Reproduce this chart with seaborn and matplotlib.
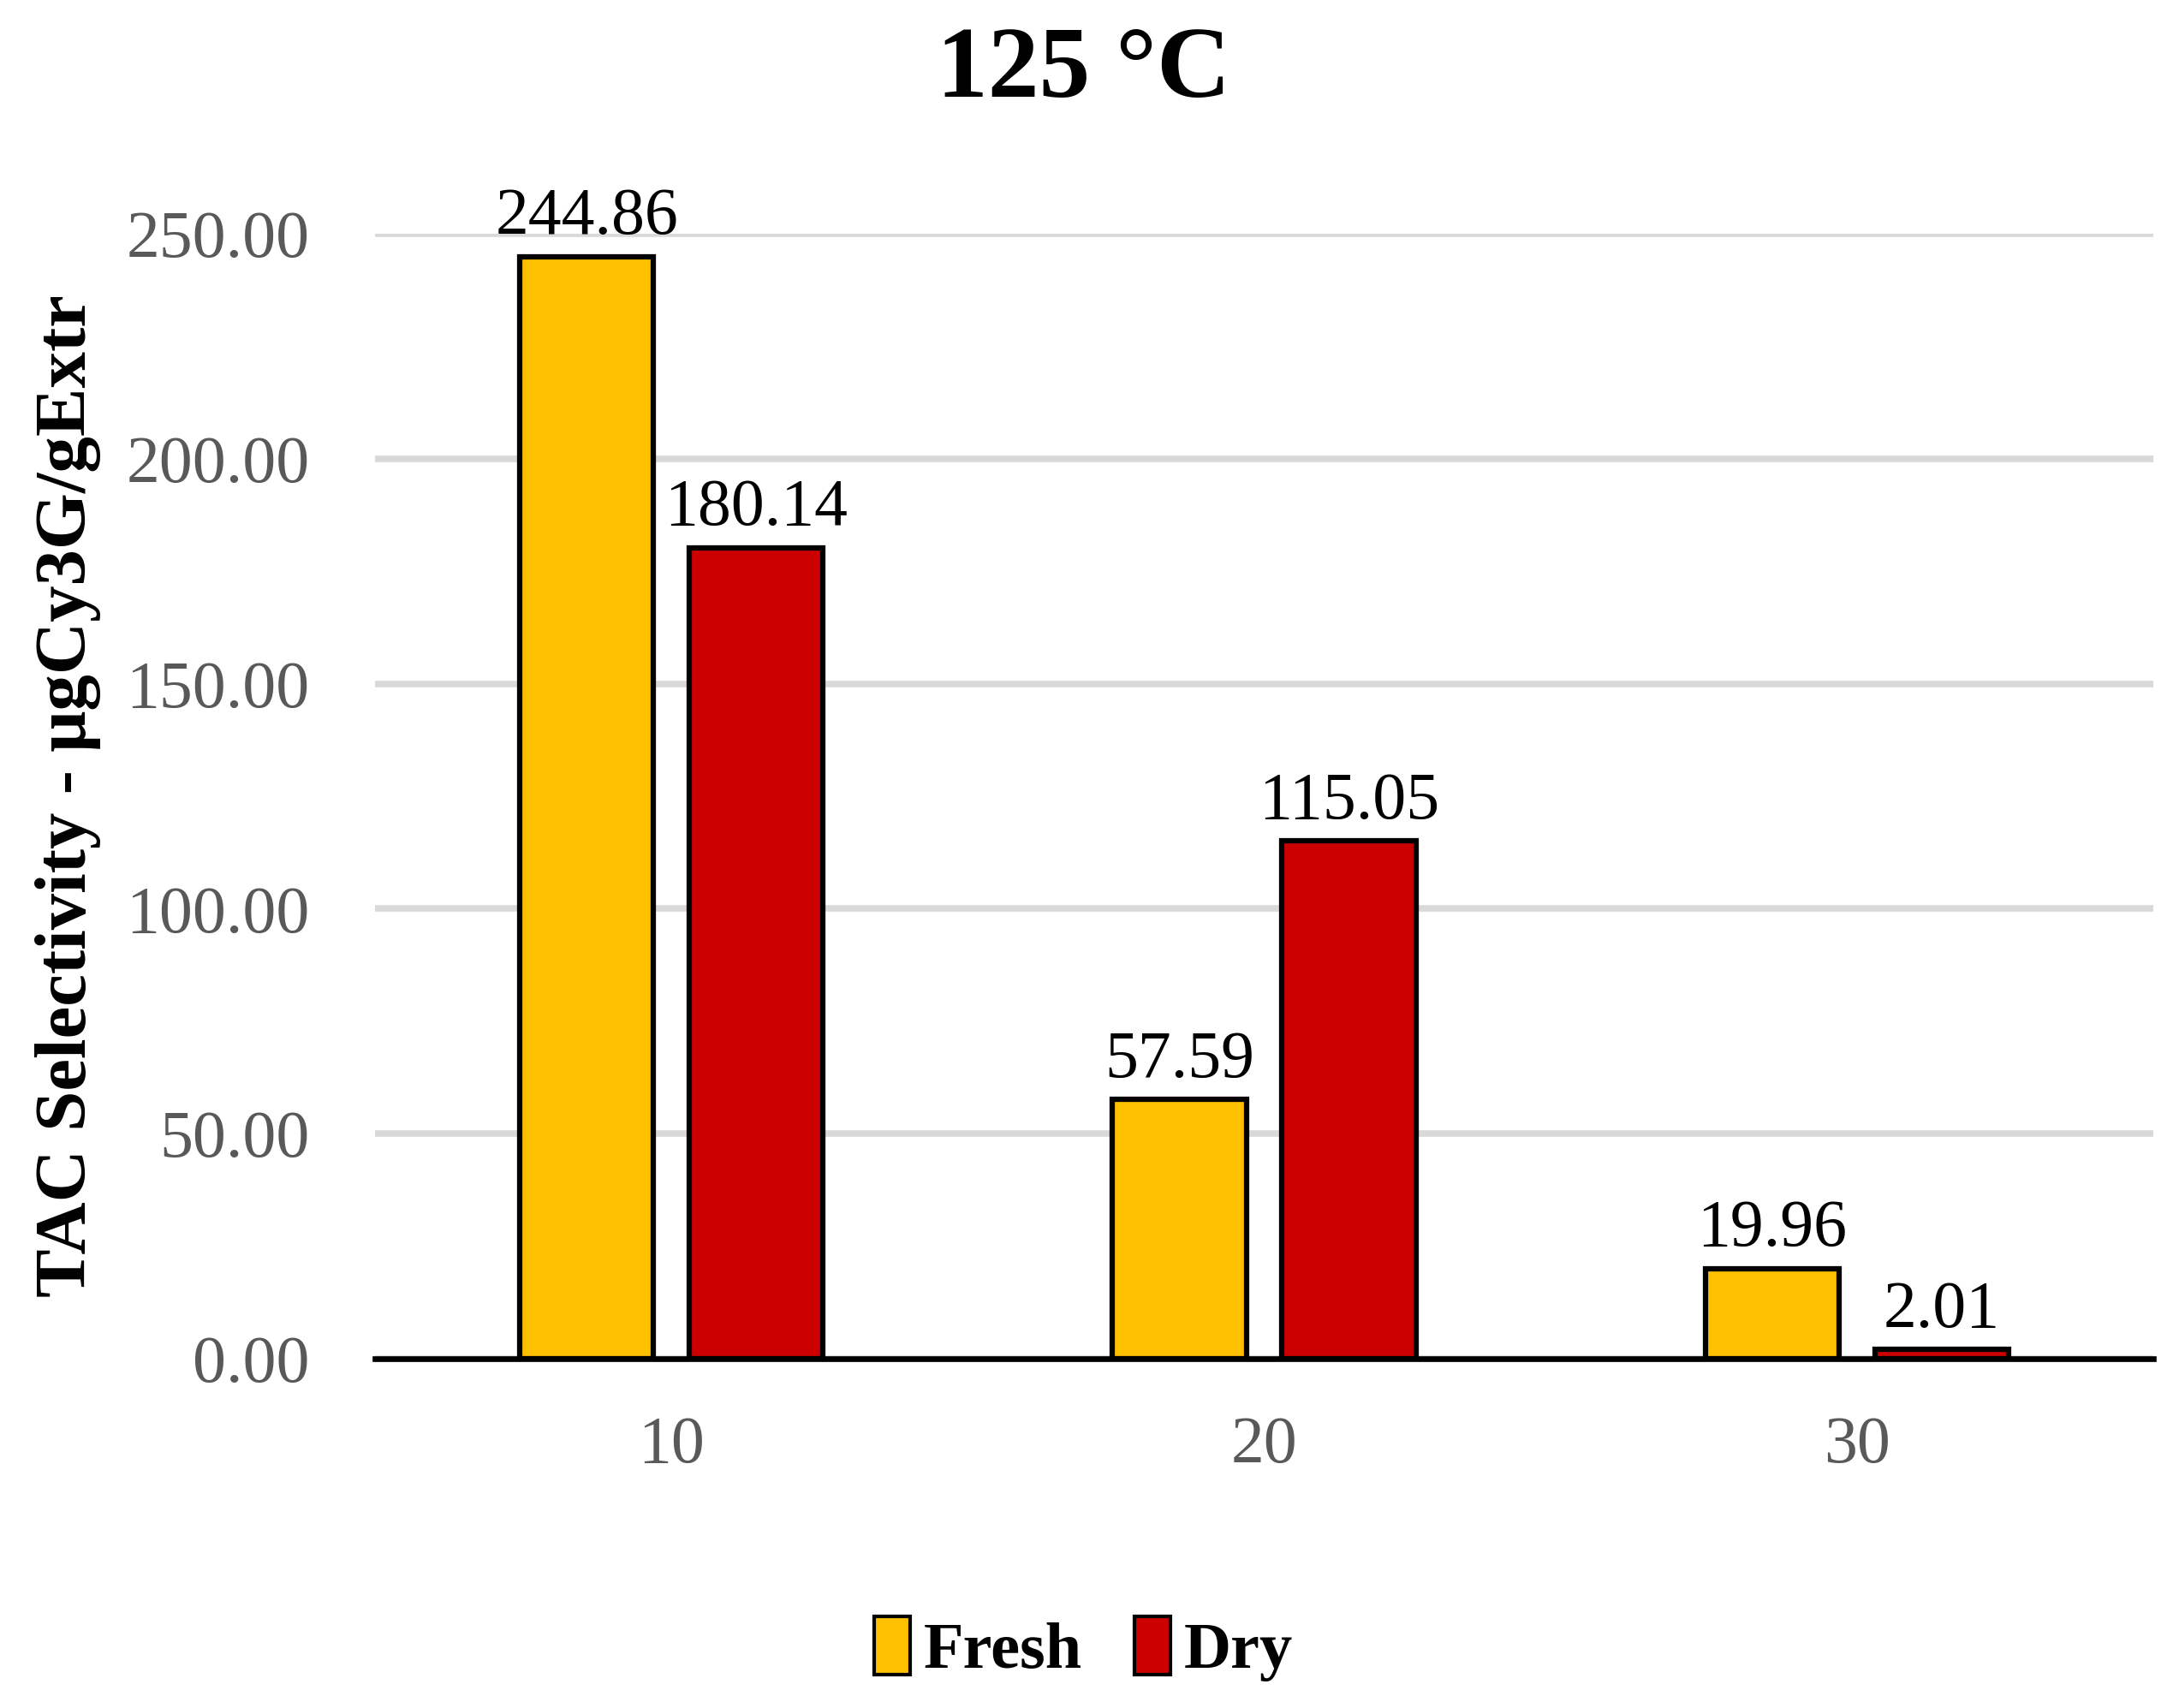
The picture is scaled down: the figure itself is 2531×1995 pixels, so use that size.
import matplotlib
matplotlib.use("Agg")
import matplotlib.pyplot as plt
import seaborn as sns
import pandas as pd
from matplotlib.patches import Patch

# ---- data ----
times = ["10", "20", "30"]
fresh = [244.86, 57.59, 19.96]
dry = [180.14, 115.05, 2.01]
series = ["Fresh", "Dry"]
colors = ["#FFC000", "#CC0000"]
yticks = [0, 50, 100, 150, 200, 250]
title = "125 °C"
ylabel = "TAC Selectivity - μgCy3G/gExtr"

df = pd.DataFrame({
    "time": times * 2,
    "value": fresh + dry,
    "type": ["Fresh"] * len(times) + ["Dry"] * len(times),
})

sns.set_theme(style="white")
plt.rcParams["font.family"] = ["Liberation Serif", "DejaVu Serif"]

fig = plt.figure(figsize=(25.31, 19.95), dpi=100)
ax = fig.add_axes([0.1731, 0.2045, 0.8206, 0.6587])

sns.barplot(data=df, x="time", y="value", hue="type", hue_order=series,
            order=times, palette=colors, saturation=1, width=0.572, gap=0.21,
            edgecolor="black", linewidth=4.5, ax=ax, legend=False, zorder=3)

for cont in ax.containers:
    ax.bar_label(cont, fmt="%.2f", padding=7, fontsize=56, color="black")

ax.set_xlim(-0.5, 2.5)
ax.set_ylim(0, 250)
ax.set_yticks(yticks)
ax.set_yticklabels([f"{v:.2f}" for v in yticks])
ax.grid(axis="y", color="#D9D9D9", linewidth=5.5, zorder=0)
ax.set_axisbelow(True)
for s in ["top", "right", "left"]:
    ax.spines[s].set_visible(False)
ax.spines["bottom"].set_color("black")
ax.spines["bottom"].set_linewidth(4.8)
ax.spines["bottom"].set_zorder(5)
ax.tick_params(axis="y", length=0, pad=55, labelsize=56, labelcolor="#595959")
ax.tick_params(axis="x", length=0, pad=48, labelsize=56, labelcolor="#595959")
ax.set_xlabel("")
ax.set_ylabel(ylabel, fontsize=61, fontweight="bold", color="black")
ax.yaxis.set_label_coords(-0.154, 0.5)

fig.text(0.5, 1 - 84 / 1995, title, ha="center", va="center",
         fontsize=86, fontweight="bold", color="black")

handles = [Patch(facecolor=c, edgecolor="black", linewidth=3) for c in colors]
leg = fig.legend(handles, series, loc="center", bbox_to_anchor=(0.5, 0.0346),
                 ncol=2, frameon=False, handlelength=0.55, handleheight=1.0,
                 handletextpad=0.2, columnspacing=0.8,
                 prop={"size": 55, "weight": "bold"})
for t in leg.get_texts():
    t.set_color("black")

fig.savefig("out.png", dpi=100)
